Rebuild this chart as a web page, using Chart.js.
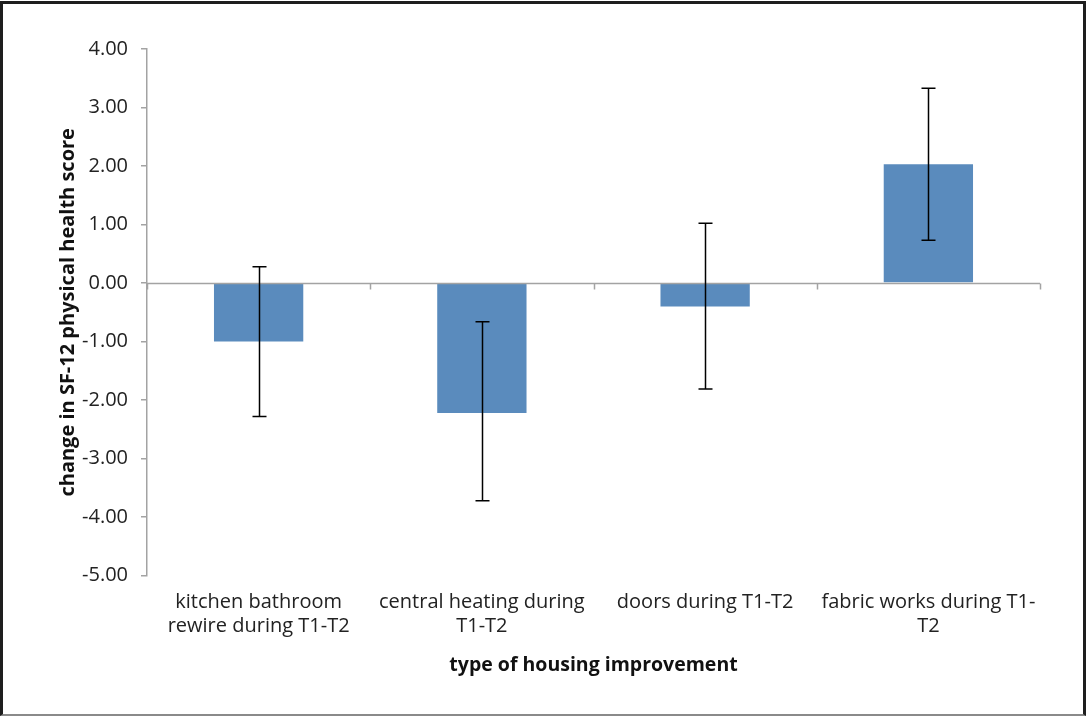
<!DOCTYPE html>
<html>
<head>
<meta charset="utf-8">
<script src="https://cdn.jsdelivr.net/npm/chart.js@4.4.1/dist/chart.umd.min.js"></script>
<style>
  body { margin: 0; background: #fff; }
  #wrap { position: absolute; left: 0; top: 0; width: 1086px; height: 716px; }
  #frame { position: absolute; left: 0; top: 1px; width: 1086px; height: 715px; box-sizing: border-box;
           border: 3px solid #1e1e1e; border-bottom: 2px solid #8a8a8a; pointer-events: none; }
</style>
</head>
<body>
<div id="wrap"><canvas id="housingChart"></canvas></div>
<div id="frame"></div>
<script>
// data
const categories = [
    ['kitchen bathroom', 'rewire during T1-T2'],
    ['central heating during', 'T1-T2'],
    ['doors during T1-T2'],
    ['fabric works during T1-', 'T2']
];
const meanChange = [-1.00, -2.22, -0.40, 2.03];
const errUpper = [0.28, -0.66, 1.02, 3.33];
const errLower = [-2.28, -3.72, -1.81, 0.73];

const FONT = "'Open Sans', 'Noto Sans', sans-serif";
const AXIS_GREY = '#a3a3a3';

// zero line with category ticks (the category axis crosses at 0)
const zeroAxis = {
    id: 'zeroAxis',
    afterDatasetsDraw(chart) {
        const { ctx, chartArea, scales } = chart;
        const y0 = Math.round(scales.y.getPixelForValue(0)) + 0.5;
        const half = (scales.x.getPixelForValue(1) - scales.x.getPixelForValue(0)) / 2;
        ctx.save();
        ctx.strokeStyle = AXIS_GREY;
        ctx.lineWidth = 1.5;
        ctx.beginPath();
        ctx.moveTo(chartArea.left, y0);
        ctx.lineTo(chartArea.right, y0);
        for (let i = 0; i <= categories.length; i++) {
            const x = Math.round(scales.x.getPixelForValue(i) - half) + 0.5;
            ctx.moveTo(x, y0);
            ctx.lineTo(x, y0 + 6);
        }
        ctx.stroke();
        ctx.restore();
    }
};

// black error bars with caps
const errorBars = {
    id: 'errorBars',
    afterDatasetsDraw(chart) {
        const { ctx, scales } = chart;
        const bars = chart.getDatasetMeta(0).data;
        ctx.save();
        ctx.strokeStyle = '#000';
        ctx.lineWidth = 1.5;
        bars.forEach(function(bar, i) {
            const x = Math.round(bar.x) + 0.5;
            const yTop = scales.y.getPixelForValue(errUpper[i]);
            const yBot = scales.y.getPixelForValue(errLower[i]);
            ctx.beginPath();
            ctx.moveTo(x, yTop);
            ctx.lineTo(x, yBot);
            ctx.moveTo(x - 7, yTop);
            ctx.lineTo(x + 7, yTop);
            ctx.moveTo(x - 7, yBot);
            ctx.lineTo(x + 7, yBot);
            ctx.stroke();
        });
        ctx.restore();
    }
};

const ctx = document.getElementById('housingChart').getContext('2d');
new Chart(ctx, {
    type: 'bar',
    data: {
        labels: categories,
        datasets: [{
            data: meanChange,
            backgroundColor: '#5a8bbd',
            borderWidth: 0,
            barPercentage: 0.4,
            categoryPercentage: 1.0
        }]
    },
    plugins: [zeroAxis, errorBars],
    options: {
        responsive: true,
        maintainAspectRatio: false,
        animation: false,
        layout: { padding: { top: 49, right: 46, left: 54, bottom: 37 } },
        plugins: {
            legend: { display: false },
            tooltip: { enabled: false }
        },
        scales: {
            x: {
                grid: { display: false, drawTicks: false },
                border: { display: false },
                ticks: {
                    color: '#222',
                    padding: 15,
                    maxRotation: 0,
                    autoSkip: false,
                    font: { family: FONT, size: 20, lineHeight: 1.2 }
                },
                title: {
                    display: true,
                    text: 'type of housing improvement',
                    color: '#111',
                    padding: { top: 0, bottom: 2 },
                    font: { family: FONT, size: 19.5, weight: 'bold' }
                }
            },
            y: {
                min: -5,
                max: 4,
                afterFit: function(scale) { scale.width = 93; },
                ticks: {
                    stepSize: 1,
                    color: '#222',
                    padding: 13,
                    font: { family: FONT, size: 20 },
                    callback: function(v) { return v.toFixed(2); }
                },
                grid: {
                    drawOnChartArea: false,
                    drawTicks: true,
                    tickLength: 6,
                    color: AXIS_GREY,
                    lineWidth: 1.5
                },
                border: { display: true, color: AXIS_GREY, width: 1.5 },
                title: {
                    display: true,
                    text: 'change in SF-12 physical health score',
                    color: '#111',
                    padding: 2,
                    font: { family: FONT, size: 20, weight: 'bold' }
                }
            }
        }
    }
});
</script>
</body>
</html>
